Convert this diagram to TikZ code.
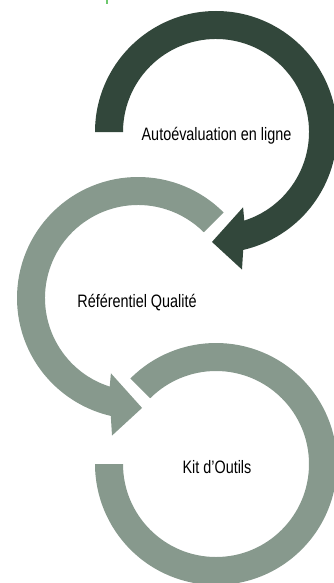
\documentclass[tikz,border=0pt]{standalone}
\usepackage{fontspec}
\setmainfont[FakeStretch=0.8]{Liberation Sans}
\definecolor{darkarrow}{RGB}{50,71,59}
\definecolor{lightarrow}{RGB}{135,153,141}
\definecolor{tickgreen}{RGB}{110,200,110}
\begin{document}
\begin{tikzpicture}[x=1pt,y=1pt,
  lbl/.style={font=\fontsize{18}{20}\selectfont, text=black, inner sep=0pt, anchor=base}]
\useasboundingbox (0,-583) rectangle (334,0);
\clip (0,-583) rectangle (334,0);
% small green tick at top
\fill[tickgreen] (106.3,0) rectangle (107.7,-4);
% circle 1 (dark, clockwise)
\begin{scope}[shift={(216,-132)}]
  \fill[darkarrow] (180:93) -- (180:121) arc[start angle=180, end angle=-77, radius=121]
    -- (-79.3:140) -- (-92.1:110) -- (-70.2:80) -- (-72.3:93)
    arc[start angle=-72.3, end angle=180, radius=93] -- cycle;
\end{scope}
% circle 2 (light, counterclockwise)
\begin{scope}[shift={(138,-298)}]
  \fill[lightarrow] (45:93) -- (45:121) arc[start angle=45, end angle=257, radius=121]
    -- (259.3:140) -- (272.1:110) -- (250.2:80) -- (252.3:93)
    arc[start angle=252.3, end angle=45, radius=93] -- cycle;
\end{scope}
% circle 3 (light, clockwise, no head)
\begin{scope}[shift={(216,-464)}]
  \fill[lightarrow] (135:93) -- (135:121) arc[start angle=135, end angle=-180, radius=121]
    -- (180:93) arc[start angle=-180, end angle=135, radius=93] -- cycle;
\end{scope}
\node[lbl] (t1) at (216.5,-140) {Autoévaluation en ligne};
\node[lbl] (t2) at (137,-307) {Référentiel Qualité};
\node[lbl] (t3) at (217,-473) {Kit d’Outils};
\end{tikzpicture}
\end{document}
